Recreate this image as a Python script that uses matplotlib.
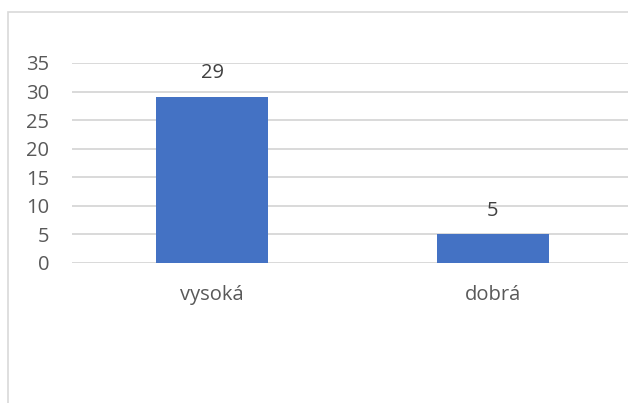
import matplotlib
matplotlib.use('Agg')
import matplotlib.pyplot as plt
from matplotlib.patches import Rectangle

categories = ['vysoká', 'dobrá']
values = [29, 5]
yticks = [0, 5, 10, 15, 20, 25, 30, 35]

plt.rcParams['font.family'] = ['Open Sans', 'DejaVu Sans']

W, H = 628, 403
fig = plt.figure(figsize=(W / 100, H / 100), dpi=100)

# chart border (cut off on the right and bottom like the source)
fig.add_artist(Rectangle((8 / W, -0.1), 1.2, 1.1 - 12 / H,
                         transform=fig.transFigure, fill=False,
                         edgecolor='#d9d9d9', linewidth=1.2))

ax = fig.add_axes([71.5 / W, (H - 263) / H, 562 / W, 200 / H])

x = range(len(categories))
ax.bar(x, values, width=0.4, color='#4472c4', zorder=3)
for xi, v in zip(x, values):
    ax.annotate(str(v), (xi, v), xytext=(0, 10), textcoords='offset points',
                ha='center', va='bottom', fontsize=14.5, color='#404040')

ax.set_xlim(-0.5, 1.5)
ax.set_ylim(0, 35)
ax.set_yticks(yticks)
ax.set_xticks(list(x))
ax.set_xticklabels(categories)
ax.tick_params(axis='both', length=0, labelsize=14.5, labelcolor='#595959')
ax.tick_params(axis='y', pad=16)
ax.tick_params(axis='x', pad=16)
ax.grid(axis='y', color='#d9d9d9', linewidth=1.4, zorder=0)
ax.set_axisbelow(True)
for s in ax.spines.values():
    s.set_visible(False)

fig.savefig('out.png', dpi=100)
